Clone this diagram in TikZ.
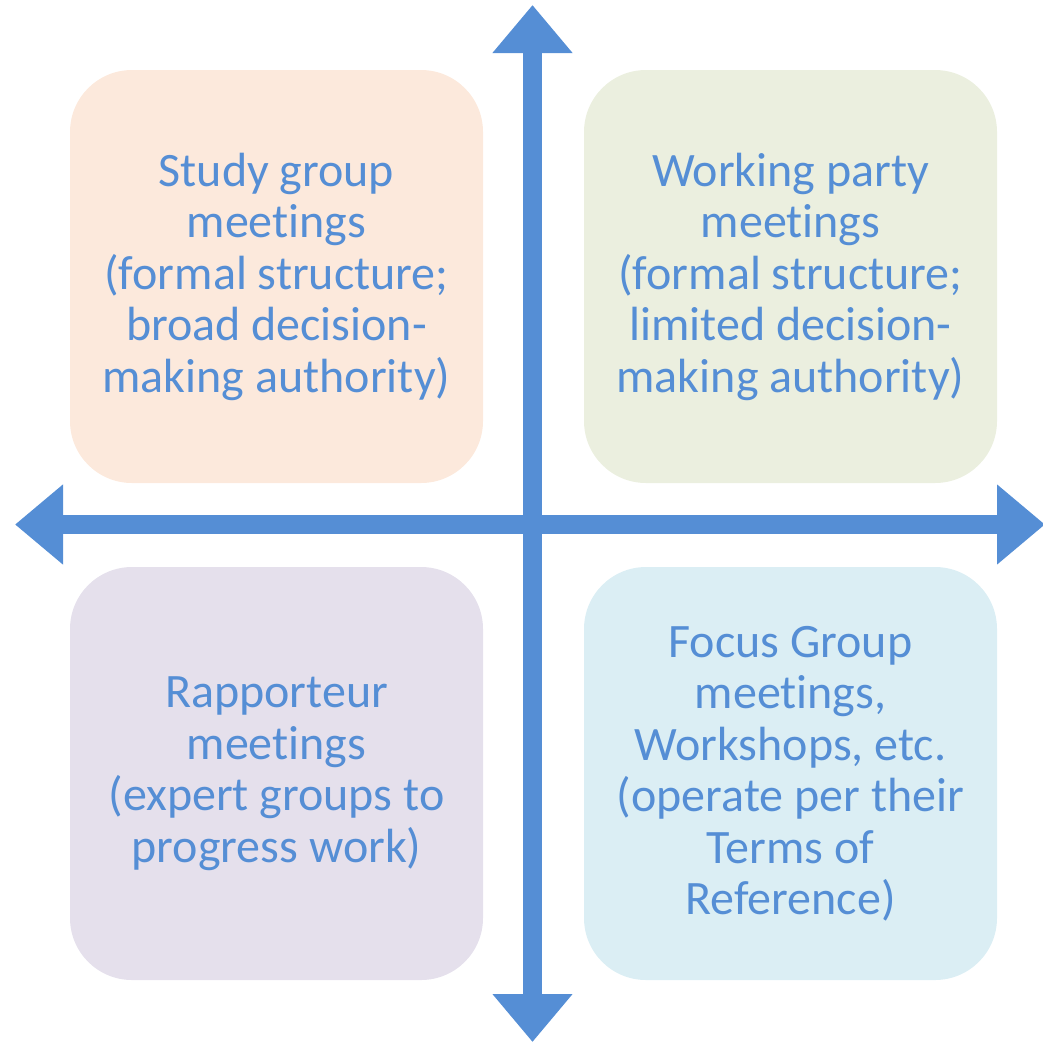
\documentclass[tikz,border=0pt]{standalone}
\usepackage{fontspec}
\setmainfont[RawFeature={-liga;-clig;-calt}]{Carlito}
\usetikzlibrary{arrows.meta}
\definecolor{axisblue}{HTML}{558ED5}
\definecolor{peach}{HTML}{FCE9DC}
\definecolor{olive}{HTML}{EBEFDF}
\definecolor{lilac}{HTML}{E5E0EC}
\definecolor{sky}{HTML}{DBEEF4}
\tikzset{
  quad/.style={rounded corners=62pt, minimum width=413pt, minimum height=413pt,
    inner sep=0pt, align=center, text=axisblue,
    font=\fontsize{48}{51.5}\selectfont},
  axis/.style={axisblue, line width=19pt,
    {Triangle[length=48pt,width=77pt]}-{Triangle[length=48pt,width=77pt]}}
}
\begin{document}
\begin{tikzpicture}[x=1pt,y=-1pt]
  \useasboundingbox (0,0) rectangle (1043,1042);
  \node[quad, fill=peach] (study) at (276.5,276.5)
    {Study group\\meetings\\(formal structure;\\broad decision-\\making authority)};
  \node[quad, fill=olive] (party) at (790.5,276.5)
    {Working party\\meetings\\(formal structure;\\limited decision-\\making authority)};
  \node[quad, fill=lilac] (rapp) at (276.5,773.5)
    {Rapporteur\\meetings\\(expert groups to\\progress work)};
  \node[quad, fill=sky] (focus) at (790.5,773.5)
    {Focus Group\\meetings,\\Workshops, etc.\\(operate per their\\Terms of\\Reference)};
  % axes
  \coordinate (west) at (15,524.5);
  \coordinate (east) at (1045,524.5);
  \coordinate (north) at (532.5,5);
  \coordinate (south) at (532.5,1042);
  \draw[axis] (west) -- (east);
  \draw[axis] (south) -- (north);
\end{tikzpicture}
\end{document}
